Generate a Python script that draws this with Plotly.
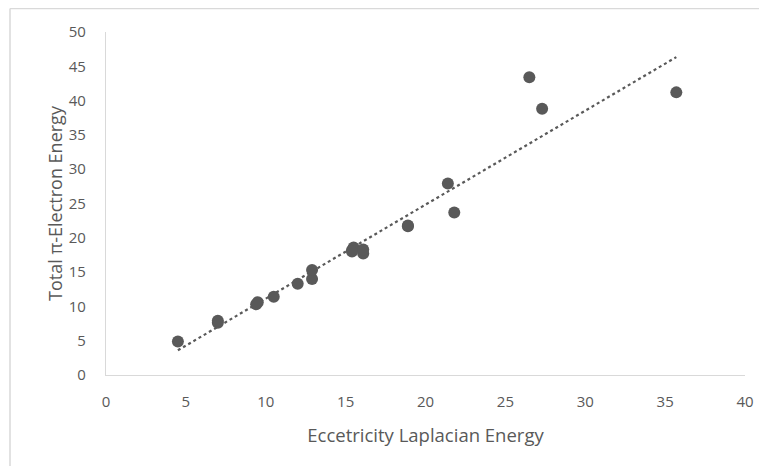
import numpy as np
import plotly.graph_objects as go

# Data
ecc_laplacian_energy = [4.5, 7.0, 7.0, 9.4, 9.5, 10.5, 12.0, 12.9, 12.9,
                        15.4, 15.5, 15.4, 16.1, 16.1, 18.9, 18.9, 21.4, 21.8,
                        26.5, 27.3, 35.7]
total_pi_electron_energy = [4.9, 7.6, 7.9, 10.3, 10.6, 11.4, 13.3, 14.0, 15.3,
                            18.2, 18.6, 18.0, 17.7, 18.3, 21.7, 21.8, 27.9, 23.7,
                            43.4, 38.8, 41.2]

x_ticks = [0, 5, 10, 15, 20, 25, 30, 35, 40]
y_ticks = [0, 5, 10, 15, 20, 25, 30, 35, 40, 45, 50]

x = np.array(ecc_laplacian_energy)
y = np.array(total_pi_electron_energy)
slope, intercept = np.polyfit(x, y, 1)
tx = np.array([x.min(), x.max()])
ty = slope * tx + intercept

grey = "#595959"
border = "#d9d9d9"
fam = "'Open Sans', sans-serif"

W, H = 759, 458
L, R, T, B = 98, 22, 24, 91
pw, ph = W - L - R, H - T - B
bx = (2 - L) / pw
by_top = 1 + (T - 0.5) / ph

fig = go.Figure()
fig.add_trace(go.Scatter(x=tx, y=ty, mode="lines",
                         line=dict(color=grey, width=2.2, dash="dot"),
                         hoverinfo="skip", showlegend=False))
fig.add_trace(go.Scatter(x=x, y=y, mode="markers",
                         marker=dict(color=grey, size=12),
                         showlegend=False))

fig.update_layout(
    width=W, height=H,
    margin=dict(l=L, r=R, t=T, b=B),
    paper_bgcolor="white", plot_bgcolor="white",
    font=dict(family=fam, size=15, color=grey),
    xaxis=dict(range=[0, 40], tickvals=x_ticks, showgrid=False, zeroline=False,
               showline=True, linecolor=border, linewidth=1.3,
               ticks="outside", ticklen=13, tickcolor="rgba(0,0,0,0)",
               tickfont=dict(family=fam, size=15, color=grey),
               title=dict(text="Eccetricity Laplacian Energy",
                          font=dict(family=fam, size=18.5, color=grey), standoff=18)),
    yaxis=dict(range=[0, 50], tickvals=y_ticks, showgrid=False, zeroline=False,
               showline=True, linecolor=border, linewidth=1.3,
               ticks="outside", ticklen=16, tickcolor="rgba(0,0,0,0)",
               tickfont=dict(family=fam, size=15, color=grey),
               title=dict(text="Total π-Electron Energy",
                          font=dict(family=fam, size=18, color=grey), standoff=1)),
    shapes=[
        dict(type="line", xref="paper", yref="paper", x0=bx, x1=bx,
             y0=-B / ph, y1=by_top, line=dict(color=border, width=1.5)),
        dict(type="line", xref="paper", yref="paper", x0=bx, x1=1 + R / pw,
             y0=by_top, y1=by_top, line=dict(color=border, width=1.5)),
    ],
)
fig.write_html("out.html")
